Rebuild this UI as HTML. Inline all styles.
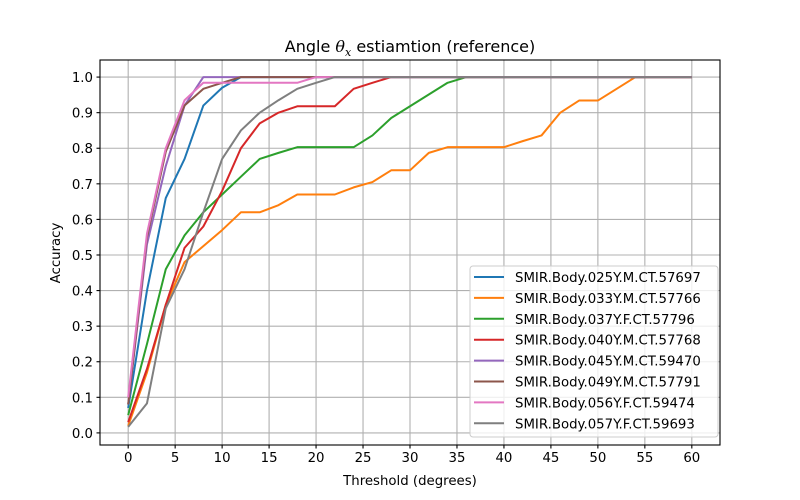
<!DOCTYPE html>
<html><head><meta charset="utf-8"><style>
body{margin:0;background:#fff;}
svg{display:block;font-family:"DejaVu Sans","Liberation Sans",sans-serif;}
</style></head><body>
<svg id="chart" width="800" height="500" xmlns="http://www.w3.org/2000/svg">
<rect width="800" height="500" fill="#fff"/>
<g id="grid"></g>
<g id="lines"></g>
<g id="axes"></g>
<g id="legend"></g>
<text x="410" y="52" font-size="16" text-anchor="middle">Angle <tspan font-family="DejaVu Serif" font-style="italic">θ</tspan><tspan font-family="DejaVu Serif" font-style="italic" font-size="11" dy="4">x</tspan><tspan dy="-4"> estiamtion (reference)</tspan></text>
<text x="410" y="485" font-size="13.3" text-anchor="middle">Threshold (degrees)</text>
<text x="0" y="0" font-size="13.3" text-anchor="middle" transform="translate(60,253) rotate(-90)">Accuracy</text>
</svg>
<script>
const thresholds = [0,2,4,6,8,10,12,14,16,18,20,22,24,26,28,30,32,34,36,38,40,42,44,46,48,50,52,54,56,58,60];
const names = ["SMIR.Body.025Y.M.CT.57697","SMIR.Body.033Y.M.CT.57766","SMIR.Body.037Y.F.CT.57796","SMIR.Body.040Y.M.CT.57768","SMIR.Body.045Y.M.CT.59470","SMIR.Body.049Y.M.CT.57791","SMIR.Body.056Y.F.CT.59474","SMIR.Body.057Y.F.CT.59693"];
const colors = ["#1f77b4","#ff7f0e","#2ca02c","#d62728","#9467bd","#8c564b","#e377c2","#7f7f7f"];
const s025 = [0.07,0.40,0.66,0.77,0.92,0.97,1.0];
const s033 = [0.02,0.17,0.36,0.48,0.525,0.57,0.62,0.62,0.64,0.67,0.67,0.67,0.69,0.705,0.738,0.738,0.787,0.803,0.803,0.803,0.803,0.82,0.836,0.90,0.934,0.934,0.967,1.0];
const s037 = [0.05,0.25,0.46,0.555,0.62,0.67,0.72,0.77,0.787,0.803,0.803,0.803,0.803,0.836,0.885,0.918,0.951,0.984,1.0];
const s040 = [0.03,0.18,0.36,0.52,0.58,0.68,0.80,0.87,0.90,0.918,0.918,0.918,0.967,0.984,1.0];
const s045 = [0.08,0.53,0.75,0.92,1.0];
const s049 = [0.08,0.55,0.79,0.92,0.967,0.984,1.0];
const s056 = [0.10,0.56,0.80,0.935,0.984,0.984,0.984,0.984,0.984,0.984,1.0];
const s057 = [0.017,0.083,0.35,0.46,0.62,0.77,0.85,0.90,0.935,0.967,0.984,1.0];
const xTicks = [0,5,10,15,20,25,30,35,40,45,50,55,60];
const yTicks = [0.0,0.1,0.2,0.3,0.4,0.5,0.6,0.7,0.8,0.9,1.0];

const series = [s025,s033,s037,s040,s045,s049,s056,s057];
const L=100,R=720,T=60,B=445;
const xmin=-3,xmax=63,ymin=-0.034,ymax=1.048;
const X=v=>L+(v-xmin)/(xmax-xmin)*(R-L);
const Y=v=>B-(v-ymin)/(ymax-ymin)*(B-T);
const NS="http://www.w3.org/2000/svg";
function mk(tag,attrs,parent){const e=document.createElementNS(NS,tag);for(const k in attrs)e.setAttribute(k,attrs[k]);parent.appendChild(e);return e;}
const grid=document.getElementById('grid'),axes=document.getElementById('axes'),lines=document.getElementById('lines'),legend=document.getElementById('legend');
xTicks.forEach(t=>{
  const g=mk('line',{x1:X(t),x2:X(t),y1:T,y2:B,stroke:'#b0b0b0','stroke-width':1.1},grid);
  
  
  mk('line',{x1:X(t),x2:X(t),y1:B,y2:B+3.5,stroke:'#000','stroke-width':1.1},axes);
  const tx=mk('text',{x:X(t),y:B+17,'font-size':13.3,'text-anchor':'middle'},axes);
  tx.textContent=t;
  
  
});
yTicks.forEach(t=>{
  const g=mk('line',{x1:L,x2:R,y1:Y(t),y2:Y(t),stroke:'#b0b0b0','stroke-width':1.1},grid);
  
  
  mk('line',{x1:L-3.5,x2:L,y1:Y(t),y2:Y(t),stroke:'#000','stroke-width':1.1},axes);
  const tx=mk('text',{x:L-7,y:Y(t)+5,'font-size':13.3,'text-anchor':'end'},axes);
  tx.textContent=t.toFixed(1);
  
  
});
series.forEach((s,i)=>{
  const vals=thresholds.map((t,j)=>j<s.length?s[j]:1.0);
  const pts=thresholds.map((t,j)=>X(t).toFixed(2)+','+Y(vals[j]).toFixed(2)).join(' ');
  const p=mk('polyline',{points:pts,fill:'none',stroke:colors[i],'stroke-width':2,'stroke-linejoin':'round'},lines);
  
  
});
const fr=mk('rect',{x:L,y:T,width:R-L,height:B-T,fill:'none',stroke:'#000','stroke-width':1.1},axes);


const lb=mk('rect',{x:470,y:266,width:248,height:171,rx:3,fill:'#fff','fill-opacity':0.8,stroke:'#ccc','stroke-width':1},legend);


names.forEach((n,i)=>{
  const y=277+i*20.9;
  const ln=mk('line',{x1:474,x2:504,y1:y,y2:y,stroke:colors[i],'stroke-width':2},legend);
  
  
  const tx=mk('text',{x:515,y:y+5,'font-size':13.3},legend);
  tx.textContent=n;
  
  
});
</script>
</body></html>
